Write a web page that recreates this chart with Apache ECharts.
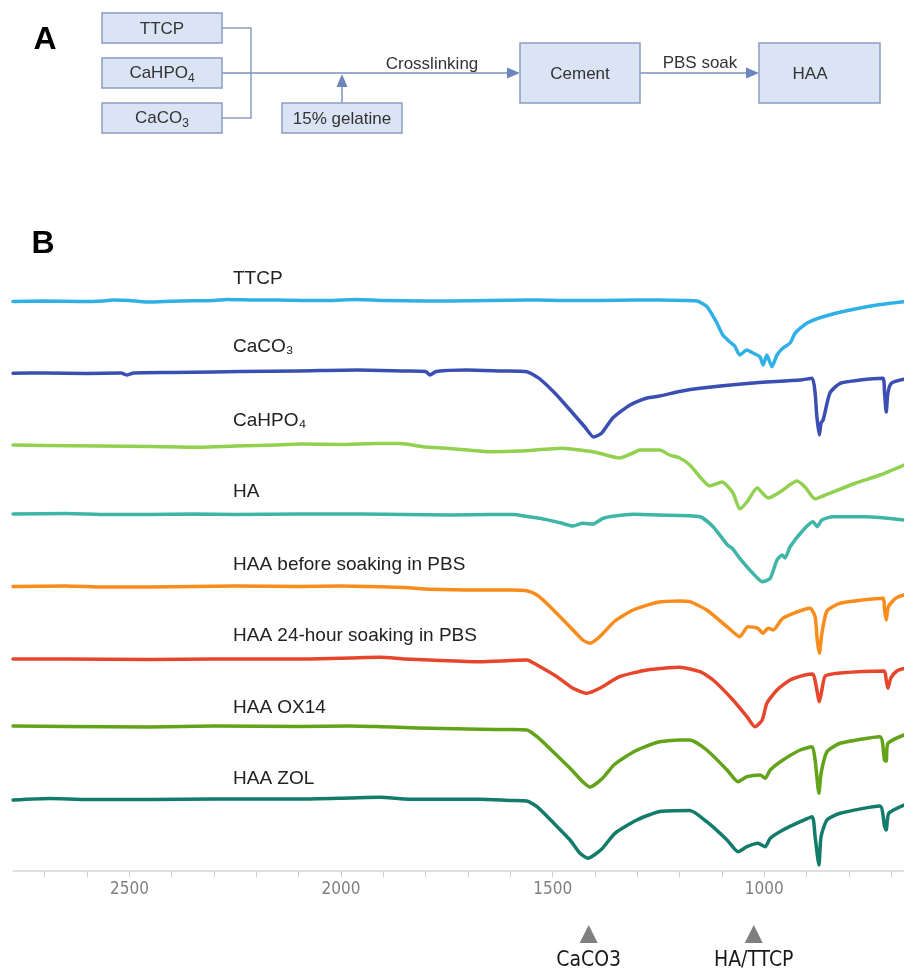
<!DOCTYPE html>
<html><head><meta charset="utf-8">
<style>html,body{margin:0;padding:0;background:#fff;}#c{width:904px;height:973px;}</style>
<script src="https://cdn.jsdelivr.net/npm/echarts@6/dist/echarts.min.js"></script>
</head><body><div id="c"></div>
<script>
// ---------- DATA (wavenumber cm-1, transmittance a.u. with stacking offset) ----------
const TTCP = [[2775,56.95],[2700,57.0],[2620,56.95],[2560,57.0],[2540,57.1],[2500,57.05],[2460,56.9],[2420,56.95],[2380,57.0],[2300,57.05],[2270,57.15],[2200,57.1],[2150,57.1],[2080,57.05],[2030,57.05],[1965,57.15],[1900,57.05],[1800,57.0],[1742,57.0],[1650,57.05],[1560,57.1],[1530,57.1],[1480,57.05],[1389,57.05],[1300,57.1],[1247,57.1],[1190,57.05],[1159,57.0],[1135,56.42],[1112,54.8],[1098,53.6],[1082,52.93],[1070,52.5],[1058,51.6],[1041,52.1],[1027,51.8],[1010,51.4],[1003,50.6],[994,51.6],[982,50.43],[970,51.6],[956,52.3],[939,52.8],[927,53.8],[899,54.8],[861,55.43],[797,56.1],[734,56.6],[670,56.93]];
const CaCO3 = [[2775,49.77],[2700,49.8],[2600,49.75],[2520,49.8],[2505,49.6],[2490,49.8],[2400,49.85],[2300,49.9],[2238,49.95],[2100,50.0],[1962,50.1],[1850,50.0],[1800,49.95],[1790,49.6],[1775,49.95],[1703,50.1],[1620,50.0],[1561,49.93],[1545,49.6],[1530,49.2],[1495,47.8],[1459,46.1],[1424,44.4],[1403,43.4],[1384,43.8],[1358,45.3],[1317,46.6],[1277,47.3],[1247,47.5],[1200,47.95],[1152,48.27],[1034,48.77],[915,49.1],[887,49.27],[880,47.8],[876,45.5],[870,43.6],[866,44.8],[861,45.1],[845,47.8],[821,48.77],[774,49.1],[720,49.27],[716,47.8],[712,45.9],[708,47.8],[700,48.77],[670,49.17]];
const CaHPO4 = [[2775,42.6],[2700,42.55],[2569,42.5],[2450,42.45],[2333,42.37],[2250,42.5],[2150,42.6],[2097,42.7],[2000,42.65],[1920,42.75],[1860,42.75],[1806,42.43],[1749,42.27],[1700,42.1],[1648,41.93],[1577,42.0],[1476,42.27],[1436,42.1],[1396,41.85],[1342,41.3],[1310,41.8],[1294,42.1],[1247,42.1],[1224,41.6],[1200,41.3],[1176,40.6],[1152,39.4],[1129,38.5],[1100,38.9],[1074,37.8],[1058,36.2],[1041,36.9],[1017,38.3],[991,37.3],[963,37.9],[923,39.0],[904,38.4],[880,37.2],[861,37.5],[790,38.7],[727,39.6],[670,40.6]];
const HA = [[2775,35.7],[2650,35.75],[2550,35.65],[2451,35.65],[2350,35.7],[2250,35.65],[2097,35.7],[1950,35.7],[1850,35.65],[1742,35.6],[1650,35.65],[1593,35.65],[1560,35.45],[1530,35.27],[1483,34.83],[1452,34.5],[1429,34.77],[1405,34.7],[1381,35.27],[1353,35.5],[1310,35.67],[1250,35.6],[1152,35.43],[1121,34.43],[1087,32.6],[1076,32.27],[1058,31.27],[1027,29.77],[1005,28.93],[986,29.27],[970,31.1],[958,31.6],[951,31.3],[939,32.43],[908,34.1],[885,34.93],[875,34.43],[864,35.1],[838,35.43],[758,35.43],[670,35.1]];
const HAA_before = [[2775,28.45],[2650,28.5],[2560,28.4],[2451,28.4],[2350,28.45],[2250,28.5],[2097,28.45],[2000,28.5],[1908,28.43],[1850,28.35],[1790,28.17],[1672,28.1],[1600,28.1],[1561,28.03],[1537,27.6],[1506,26.43],[1459,24.4],[1429,23.1],[1412,22.77],[1389,23.43],[1353,25.0],[1310,26.1],[1254,26.85],[1200,27.0],[1176,26.93],[1136,26.1],[1088,24.43],[1058,23.43],[1039,24.43],[1015,24.27],[1003,23.77],[991,24.27],[979,24.1],[956,25.27],[892,26.27],[880,25.43],[875,23.1],[870,21.77],[864,23.77],[852,26.0],[821,26.77],[720,27.27],[716,26.1],[712,25.1],[707,26.43],[690,27.27],[670,27.6]];
const HAA_24h = [[2775,21.2],[2650,21.2],[2451,21.15],[2300,21.2],[2097,21.2],[1980,21.3],[1908,21.37],[1850,21.2],[1790,21.1],[1672,20.93],[1600,21.05],[1561,21.1],[1537,20.6],[1490,19.43],[1452,18.27],[1419,17.77],[1389,18.27],[1342,19.43],[1277,20.1],[1200,20.37],[1152,19.93],[1121,19.1],[1074,17.1],[1041,15.43],[1022,14.43],[1005,15.1],[994,16.77],[970,18.1],[939,19.1],[904,19.6],[885,19.7],[878,18.6],[870,16.93],[864,18.1],[856,19.5],[821,19.8],[717,20.0],[712,19.1],[708,18.27],[701,19.3],[687,20.0],[670,20.25]];
const HAA_OX14 = [[2775,14.5],[2650,14.45],[2451,14.4],[2300,14.5],[2097,14.45],[1980,14.5],[1908,14.43],[1850,14.35],[1790,14.27],[1672,14.17],[1600,14.15],[1561,14.1],[1537,13.43],[1499,11.93],[1459,10.27],[1429,8.93],[1412,8.4],[1384,9.2],[1353,10.7],[1305,12.0],[1254,12.85],[1200,13.1],[1176,13.1],[1136,12.1],[1088,10.1],[1062,8.93],[1041,9.43],[1010,9.6],[998,9.27],[986,10.1],[956,11.1],[915,12.1],[887,12.43],[880,11.1],[871,7.77],[866,9.77],[852,11.93],[821,12.77],[727,13.43],[716,11.1],[712,11.0],[708,12.77],[670,13.6]];
const HAA_ZOL = [[2775,7.1],[2687,7.25],[2600,7.15],[2451,7.15],[2300,7.2],[2097,7.2],[1980,7.3],[1908,7.37],[1850,7.2],[1790,7.17],[1672,7.17],[1600,7.05],[1561,7.0],[1537,6.43],[1499,4.85],[1459,3.1],[1436,1.8],[1417,1.27],[1384,2.2],[1353,3.77],[1301,5.1],[1247,5.95],[1176,6.05],[1136,4.93],[1088,3.1],[1062,1.93],[1041,2.43],[1015,2.77],[998,2.43],[986,3.27],[956,4.1],[915,4.93],[887,5.43],[880,3.43],[871,0.6],[866,3.43],[852,5.1],[821,5.77],[727,6.5],[716,4.5],[712,4.1],[706,5.77],[670,6.6]];

const seriesNames = ['TTCP','CaCO₃','CaHPO₄','HA','HAA before soaking in PBS','HAA 24-hour soaking in PBS','HAA OX14','HAA ZOL'];
const seriesData = [TTCP, CaCO3, CaHPO4, HA, HAA_before, HAA_24h, HAA_OX14, HAA_ZOL];
const tickValues = [700,800,900,1000,1100,1200,1300,1400,1500,1600,1700,1800,1900,2000,2100,2200,2300,2400,2500,2600,2700];
const tickLabels = [1000,1500,2000,2500];
const markerPositions = [1415, 1025];
const markerNames = ['CaCO3', 'HA/TTCP'];

// ---------- STYLE / LAYOUT ----------
const colors = ['#2fb0e6','#3b4fb3','#92d050','#3fb5a7','#fa8c1e','#e6462b','#62a31a','#137b69'];
const labelY = [279, 347, 421, 492, 565, 636, 708, 779];
const SANS = '"Liberation Sans", Arial, sans-serif';
const NARROW = '"Liberation Sans Narrow", "DejaVu Sans Condensed", sans-serif';

const chart = echarts.init(document.getElementById('c'));
chart.setOption({
  animation: false,
  backgroundColor: '#ffffff',
  grid: { left: 13, right: 0, top: 271, bottom: 102 },
  xAxis: {
    type: 'value', inverse: true, min: 670, max: 2775,
    axisLine: { lineStyle: { color: '#d6d6d6', width: 1.5 } },
    axisTick: { show: true, customValues: tickValues, length: 6, lineStyle: { color: '#cfcfcf', width: 1 } },
    axisLabel: { customValues: tickLabels, color: '#808080', fontSize: 17, fontFamily: NARROW, margin: 10,
      formatter: v => String(v) },
    splitLine: { show: false }
  },
  yAxis: { type: 'value', min: 0, max: 60, show: false, splitLine: { show: false } },
  series: seriesData.map((d, i) => ({
    type: 'line', name: seriesNames[i], data: d, showSymbol: false, smooth: 0.2,
    lineStyle: { color: colors[i], width: 3.5, join: 'round', cap: 'round' },
    itemStyle: { color: colors[i] }
  }))
});

// ---------- GRAPHICS ----------
const mctx = document.createElement('canvas').getContext('2d');
function tw(t, font) { mctx.font = font; return mctx.measureText(t).width; }
const g = [];
function txt(t, x, y, font, fill, align, valign) {
  g.push({ type: 'text', silent: true, style: { text: t, x, y, font, fill: fill || '#333',
    textAlign: align || 'center', textVerticalAlign: valign || 'middle', align: align || 'center', verticalAlign: valign || 'middle' } });
}
const boxFill = '#dae4f4', boxStroke = '#8c9dc1', lineCol = '#7a90bd', headCol = '#6b86bc';
const boxFont = '17px ' + SANS, subFont = '12px ' + SANS;
const boxes = [
  { x: 102, y: 13, w: 120, h: 30, t: 'TTCP' },
  { x: 102, y: 58, w: 120, h: 30, t: 'CaHPO', s: '4' },
  { x: 102, y: 103, w: 120, h: 30, t: 'CaCO', s: '3' },
  { x: 282, y: 103, w: 120, h: 30, t: '15% gelatine' },
  { x: 520, y: 43, w: 120, h: 60, t: 'Cement' },
  { x: 759, y: 43, w: 121, h: 60, t: 'HAA', tx: 810 }
];
g.push({ type: 'polyline', silent: true, shape: { points: [[222,28],[251,28],[251,118],[222,118]] }, style: { stroke: boxStroke, lineWidth: 1.5, fill: null } });
g.push({ type: 'line', silent: true, shape: { x1: 222, y1: 73, x2: 510, y2: 73 }, style: { stroke: lineCol, lineWidth: 1.5 } });
g.push({ type: 'polygon', silent: true, shape: { points: [[520,73],[507,67.5],[507,78.5]] }, style: { fill: headCol } });
g.push({ type: 'line', silent: true, shape: { x1: 342, y1: 103, x2: 342, y2: 86 }, style: { stroke: lineCol, lineWidth: 1.5 } });
g.push({ type: 'polygon', silent: true, shape: { points: [[342,74],[336.5,87],[347.5,87]] }, style: { fill: headCol } });
g.push({ type: 'line', silent: true, shape: { x1: 640, y1: 73, x2: 749, y2: 73 }, style: { stroke: lineCol, lineWidth: 1.5 } });
g.push({ type: 'polygon', silent: true, shape: { points: [[759,73],[746,67.5],[746,78.5]] }, style: { fill: headCol } });
boxes.forEach(b => {
  g.push({ type: 'rect', silent: true, shape: { x: b.x, y: b.y, width: b.w, height: b.h }, style: { fill: boxFill, stroke: boxStroke, lineWidth: 1.5 } });
  const cx = b.tx || (b.x + b.w / 2), cy = b.y + b.h / 2;
  if (b.s) {
    const w1 = tw(b.t, boxFont), w2 = tw(b.s, subFont);
    const sx = cx - (w1 + w2) / 2;
    txt(b.t, sx, cy, boxFont, '#333', 'left');
    txt(b.s, sx + w1, cy + 6, subFont, '#333', 'left');
  } else {
    txt(b.t, cx, cy + 1, boxFont, '#333');
  }
});
txt('Crosslinking', 432, 64, boxFont, '#333');
txt('PBS soak', 700, 63, boxFont, '#333');
txt('A', 45, 40, 'bold 32px ' + SANS, '#000');
txt('B', 43, 244, 'bold 32px ' + SANS, '#000');

seriesNames.forEach((n, i) => txt(n, 233, labelY[i], '19px ' + SANS, '#222', 'left'));

markerPositions.forEach((v, i) => {
  const px = chart.convertToPixel({ xAxisIndex: 0 }, v);
  g.push({ type: 'polygon', silent: true, shape: { points: [[px, 925],[px - 9, 943],[px + 9, 943]] }, style: { fill: '#7f7f7f' } });
  txt(markerNames[i], px, 961, '21px ' + NARROW, '#1a1a1a');
});

chart.setOption({ graphic: { elements: g } });
</script></body></html>
